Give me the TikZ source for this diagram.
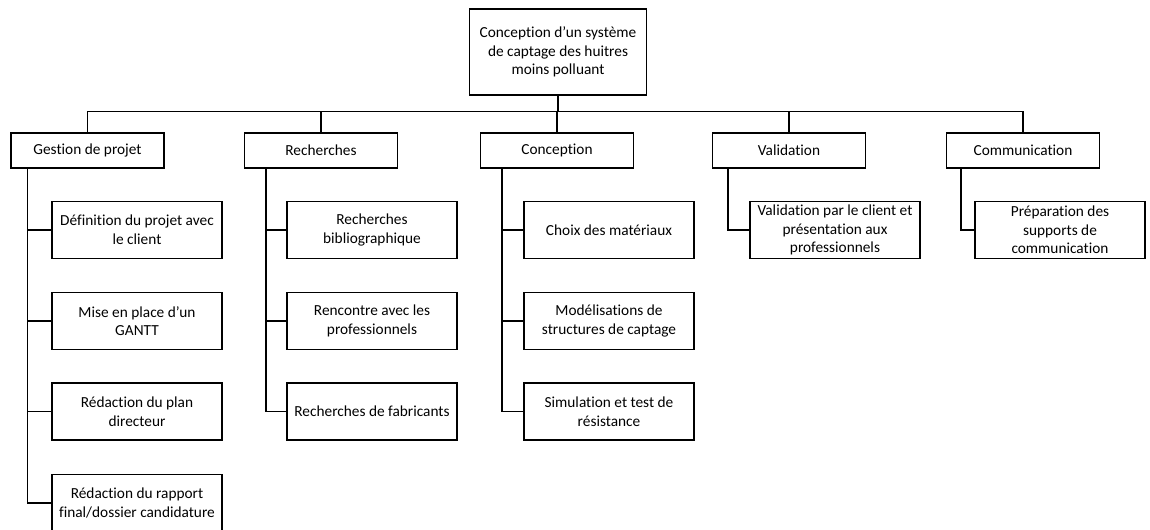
\documentclass[tikz,border=0pt]{standalone}
\usepackage{fontspec}
\setmainfont{Carlito}[Ligatures=CommonOff]
\usepackage{tikz}

\begin{document}
\begin{tikzpicture}[x=0.75pt,y=-0.75pt,
  box/.style={draw,line width=0.8pt,rectangle,align=center,inner sep=0pt,
    font=\fontsize{11.5}{14}\selectfont},
  top/.style={box,minimum width=132.75pt,minimum height=64.5pt},
  lvl/.style={box,minimum width=114.75pt,minimum height=26.25pt},
  task/.style={box,minimum width=127.5pt,minimum height=42.75pt},
  link/.style={line width=0.8pt}]
\useasboundingbox (0,0) rectangle (1150,530);

\node[top] (0) at (558,52) {Conception d'un système\\de captage des huitres\\moins polluant};

\node[lvl] (1) at (87.5,150.5) {Gestion de projet};
\node[lvl] (2) at (321,150.5) {Recherches};
\node[lvl] (3) at (557,150.5) {Conception};
\node[lvl] (4) at (789,150.5) {Validation};
\node[lvl] (5) at (1023,150.5) {Communication};

\node[task] (11) at (137,230) {Définition du projet avec\\le client};
\node[task] (12) at (137,321) {Mise en place d'un\\GANTT};
\node[task] (13) at (137,411.5) {Rédaction du plan\\directeur};
\node[task] (14) at (137,503) {Rédaction du rapport\\final/dossier candidature};

\node[task] (21) at (372,230) {Recherches\\bibliographique};
\node[task] (22) at (372,321) {Rencontre avec les\\professionnels};
\node[task] (23) at (372,411.5) {Recherches de fabricants};

\node[task] (31) at (609,230) {Choix des matériaux};
\node[task] (32) at (609,321) {Modélisations de\\structures de captage};
\node[task] (33) at (609,411.5) {Simulation et test de\\résistance};

\node[task] (41) at (835,230) {Validation par le client et\\présentation aux\\professionnels};

\node[task] (51) at (1060,230) {Préparation des\\supports de\\communication};

\foreach \i in {1,...,5}
  \draw[link] (\i.north) -- ++(0,-21) -| (0.south);

\foreach \c in {11,12,13,14}
  \draw[link] ([xshift=12.75pt]1.south west) |- (\c.west);
\foreach \c in {21,22,23}
  \draw[link] ([xshift=16.5pt]2.south west) |- (\c.west);
\foreach \c in {31,32,33}
  \draw[link] ([xshift=16.5pt]3.south west) |- (\c.west);
\draw[link] ([xshift=12pt]4.south west) |- (41.west);
\draw[link] ([xshift=11.25pt]5.south west) |- (51.west);

\end{tikzpicture}
\end{document}
